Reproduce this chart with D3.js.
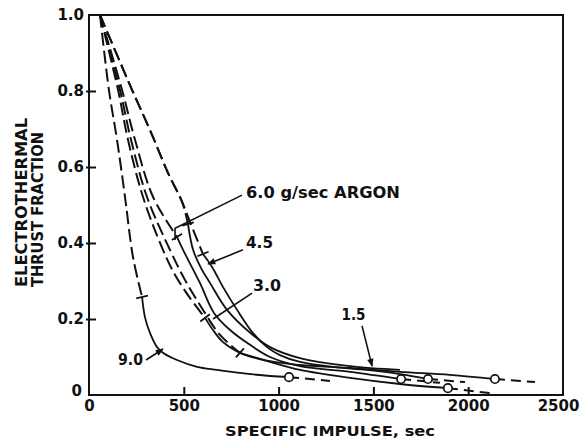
<!DOCTYPE html>
<html><head><meta charset="utf-8">
<script src="https://cdn.jsdelivr.net/npm/d3@7"></script>
<style>
html,body{margin:0;padding:0;background:#fff;}
svg{display:block;}
text{font-family:"DejaVu Sans",sans-serif;fill:#111;}
</style></head>
<body>
<svg id="c" width="582" height="443"></svg>
<script>
// ---- data (specific impulse, sec ; electrothermal thrust fraction) ----
const flowRates = ["9.0", "6.0", "6.0 (run 2)", "4.5", "3.0", "1.5"];
const xTicks = [0, 500, 1000, 1500, 2000, 2500];
const yTicks = [0, 0.2, 0.4, 0.6, 0.8, 1.0];

// dashed (calculated) upper part, solid (measured) middle part, dashed extrapolated tail
const head90 = [[58,1.0],[105,0.803],[148,0.671],[190,0.521],[232,0.363],[280,0.258]];
const solid90 = [[280,0.258],[295,0.205],[322,0.163],[359,0.126],[390,0.111],[464,0.092],[570,0.074],[675,0.066],[796,0.058],[955,0.050],[1055,0.047]];
const tail90 = [[1055,0.047],[1271,0.037]];

const head60 = [[58,1.0],[174,0.803],[243,0.671],[338,0.521],[464,0.416]];
const solid60 = [[464,0.416],[496,0.382],[585,0.295],[659,0.216],[744,0.171],[849,0.132],[955,0.100],[1113,0.076],[1377,0.061],[1646,0.042]];
const tail60 = [[1646,0.042],[1851,0.032]];

const head60b = [[58,1.0],[227,0.803],[322,0.697],[417,0.584],[491,0.508],[522,0.450]];
const solid60b = [[522,0.450],[549,0.382],[591,0.334],[638,0.295],[728,0.224],[833,0.171],[955,0.126],[1113,0.097],[1377,0.076],[1640,0.066]];
const tail60b = [];

const head45 = [[58,1.0],[227,0.803],[322,0.697],[417,0.584],[491,0.508],[533,0.455],[601,0.371]];
const solid45 = [[601,0.371],[649,0.337],[707,0.284],[781,0.224],[865,0.163],[939,0.126],[1007,0.105],[1113,0.087],[1287,0.074],[1466,0.066],[1640,0.055],[1788,0.042]];
const tail45 = [[1788,0.042],[1983,0.034]];

const head30 = [[58,1.0],[153,0.803],[206,0.671],[285,0.521],[390,0.382],[454,0.316],[533,0.255],[612,0.203]];
const solid30 = [[612,0.203],[654,0.171],[707,0.139],[796,0.111],[955,0.087],[1113,0.066],[1377,0.045],[1640,0.029],[1893,0.018]];
const tail30 = [[1893,0.018],[2115,0.005]];

const head15 = [[58,1.0],[163,0.803],[222,0.671],[306,0.521],[427,0.382],[506,0.303],[585,0.237],[691,0.158],[796,0.111]];
const solid15 = [[796,0.111],[955,0.089],[1113,0.079],[1377,0.071],[1640,0.061],[1904,0.053],[2141,0.042]];
const tail15 = [[2141,0.042],[2352,0.034]];

const heads = [head90, head60, head60b, head45, head30, head15];
const solids = [solid90, solid60, solid60b, solid45, solid30, solid15];
const tails = [tail90, tail60, tail60b, tail45, tail30, tail15];
const endCircle = [true, true, false, true, true, true];

// annotation labels: text, text anchor position, leader line points (data units)
const labelTexts = ["9.0", "6.0 g/sec ARGON", "4.5", "3.0", "1.5"];
const labelWidths = [25, 154, 27, 28, 24];
const labelPos = [[153,0.079],[828,0.518],[828,0.387],[865,0.274],[1332,0.197]];
const leaders = [
  [[301,0.092],[390,0.121]],
  [[807,0.526],[454,0.439],[454,0.408]],
  [[812,0.382],[628,0.345]],
  [[860,0.268],[654,0.200]],
  [[1440,0.182],[1493,0.076]]
];
const leaderArrow = [true, false, true, false, true];

// ---- drawing ----
const svg = d3.select("#c");
const x = d3.scaleLinear().domain([0, 2500]).range([89, 563]);
const y = d3.scaleLinear().domain([0, 1]).range([395, 15]);
const ink = "#111";

// frame
svg.append("rect").attr("x", x(0)).attr("y", y(1)).attr("width", x(2500) - x(0)).attr("height", y(0) - y(1))
  .attr("fill", "none").attr("stroke", ink).attr("stroke-width", 2);

// axes with inward ticks
const xAxis = d3.axisBottom(x).tickValues(xTicks).tickSize(-8).tickPadding(12).tickFormat(d => d === 0 ? "0" : d3.format("d")(d));
const gx = svg.append("g").attr("transform", `translate(0,${y(0)})`).call(xAxis);
gx.select(".domain").remove();
gx.selectAll(".tick line").attr("stroke", ink).attr("stroke-width", 2).filter(d => d === 0 || d === 2500).remove();
gx.selectAll(".tick text").attr("font-size", 15).attr("font-weight", "bold").attr("fill", ink)
  .attr("font-family", "DejaVu Sans").attr("dy", "0.71em").attr("y", 5);
gx.selectAll(".tick").filter(d => d === 2500).select("text").attr("x", -5);

const yAxis = d3.axisLeft(y).tickValues(yTicks).tickSize(-7).tickPadding(5).tickFormat(d => d === 0 ? "0" : d3.format(".1f")(d));
const gy = svg.append("g").attr("transform", `translate(${x(0)},0)`).call(yAxis);
gy.select(".domain").remove();
gy.selectAll(".tick line").attr("stroke", ink).attr("stroke-width", 2).attr("x1", -3).filter(d => d === 0 || d === 1).remove();
gy.selectAll(".tick text").attr("font-size", 15).attr("font-weight", "bold").attr("fill", ink).attr("font-family", "DejaVu Sans");
gy.selectAll(".tick").filter(d => d === 0).select("text").attr("x", -7).attr("dy", "0.05em");

// axis titles
svg.append("text").attr("x", 330).attr("y", 436).attr("text-anchor", "middle").attr("font-size", 14).attr("font-weight", "bold")
  .attr("textLength", 210).attr("lengthAdjust", "spacingAndGlyphs").text("SPECIFIC IMPULSE, sec");
svg.append("text").attr("transform", "translate(27,287) rotate(-90)").attr("text-anchor", "start").attr("font-size", 16).attr("font-weight", "bold")
  .attr("textLength", 169).attr("lengthAdjust", "spacingAndGlyphs").text("ELECTROTHERMAL");
svg.append("text").attr("transform", "translate(43,287) rotate(-90)").attr("text-anchor", "start").attr("font-size", 16).attr("font-weight", "bold")
  .attr("textLength", 155).attr("lengthAdjust", "spacingAndGlyphs").text("THRUST FRACTION");

const line = d3.line().x(d => x(d[0])).y(d => y(d[1])).curve(d3.curveCatmullRom.alpha(0.5));

const gCurves = svg.append("g");
flowRates.forEach((f, i) => {
  gCurves.append("path").attr("d", line(heads[i])).attr("fill", "none").attr("stroke", ink)
    .attr("stroke-width", 2).attr("stroke-dasharray", "13,5");
  gCurves.append("path").attr("d", line(solids[i])).attr("fill", "none").attr("stroke", ink).attr("stroke-width", 1.8);
  if (tails[i].length > 1) {
    gCurves.append("path").attr("d", line(tails[i])).attr("fill", "none").attr("stroke", ink)
      .attr("stroke-width", 2).attr("stroke-dasharray", "10,6");
  }
  // cross tick at the head/solid junction
  const h = heads[i], p = h[h.length - 1], q = h[h.length - 2];
  const px = x(p[0]), py = y(p[1]), dx = px - x(q[0]), dy = py - y(q[1]);
  const L = Math.hypot(dx, dy), nx = -dy / L * 6, ny = dx / L * 6;
  gCurves.append("line").attr("x1", px - nx).attr("y1", py - ny).attr("x2", px + nx).attr("y2", py + ny)
    .attr("stroke", ink).attr("stroke-width", 1.8);
  // open circle at end of measured part
  if (endCircle[i]) {
    const s = solids[i][solids[i].length - 1];
    gCurves.append("circle").attr("cx", x(s[0])).attr("cy", y(s[1])).attr("r", 4.2)
      .attr("fill", "#fff").attr("stroke", ink).attr("stroke-width", 1.7);
  }
});

// annotations
svg.append("defs").append("marker").attr("id", "ah").attr("viewBox", "0 0 10 10").attr("refX", 9).attr("refY", 5)
  .attr("markerWidth", 7).attr("markerHeight", 5).attr("orient", "auto")
  .append("path").attr("d", "M0,1 L10,5 L0,9 Z").attr("fill", ink);
const lin = d3.line().x(d => x(d[0])).y(d => y(d[1]));
labelTexts.forEach((t, i) => {
  svg.append("path").attr("d", lin(leaders[i])).attr("fill", "none").attr("stroke", ink).attr("stroke-width", 1.6)
    .attr("marker-end", leaderArrow[i] ? "url(#ah)" : null);
  svg.append("text").attr("x", x(labelPos[i][0])).attr("y", y(labelPos[i][1])).attr("font-size", 15)
    .attr("font-weight", "bold").attr("textLength", labelWidths[i]).attr("lengthAdjust", "spacingAndGlyphs").text(t);
});
</script>
</body></html>
